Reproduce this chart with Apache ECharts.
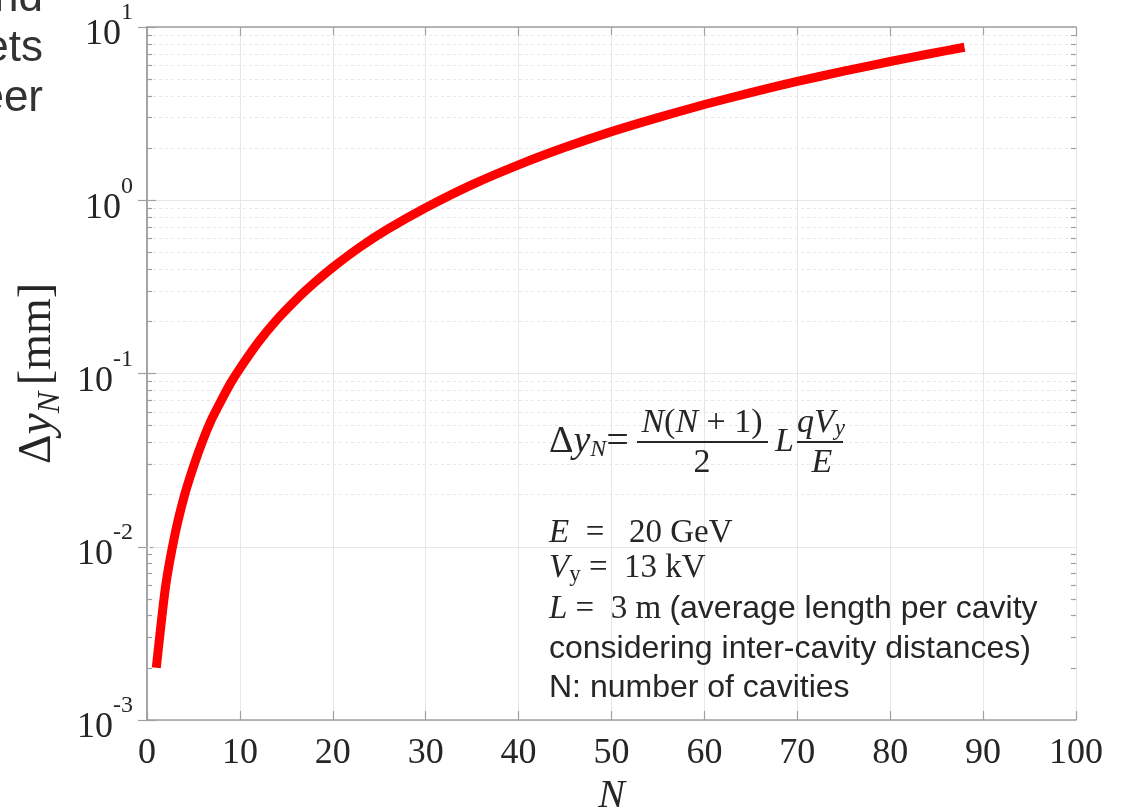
<!DOCTYPE html>
<html>
<head>
<meta charset="utf-8">
<script src="https://cdn.jsdelivr.net/npm/echarts@6/dist/echarts.min.js"></script>
<style>html,body{margin:0;padding:0;background:#fff;}#c{width:1127px;height:812px;}</style>
</head>
<body>
<div id="c"></div>
<script>
// ---- data ----
const nValues = [1,2,3,4,5,6,7,8,9,10,12,14,16,18,20,23,26,30,35,40,45,50,55,60,65,70,75,80,84,88];
const dyValues = [0.0020,0.0059,0.0117,0.0195,0.029,0.041,0.055,0.070,0.088,0.107,0.152,0.205,0.265,0.333,0.41,0.54,0.685,0.905,1.23,1.60,2.02,2.49,3.00,3.57,4.18,4.85,5.56,6.32,6.96,7.64];
const decades = [0.001, 0.01, 0.1, 1];
const minorFactors = [2,3,4,5,6,7,8,9];
const xRange = [0, 100];
const yRange = [0.001, 10];

const TXT = '#262626';
const AX = '#a0a0a0';
const SERIF = '"Liberation Serif","Times New Roman",serif';
const SANS = '"Liberation Sans",Arial,sans-serif';

const minorVals = [];
decades.forEach(d => minorFactors.forEach(f => minorVals.push(+(d * f).toPrecision(3))));

const minorGrid = minorVals.map(v => ({ yAxis: v }));
const minorTicks = [];
minorVals.forEach(v => {
  minorTicks.push([{ coord: [0, v] }, { coord: [0.55, v] }]);
  minorTicks.push([{ coord: [100, v] }, { coord: [99.45, v] }]);
});

const yLabelRich = {
  b: { fontFamily: SERIF, fontSize: 36, color: TXT, verticalAlign: 'bottom', lineHeight: 52 },
  s: { fontFamily: SERIF, fontSize: 24, color: TXT, verticalAlign: 'top', lineHeight: 52 }
};

const option = {
  animation: false,
  backgroundColor: '#fff',
  grid: { left: 147, right: 51, top: 27, bottom: 92, containLabel: false, outerBoundsMode: 'none' },
  xAxis: [{
    type: 'value', min: xRange[0], max: xRange[1], interval: 10,
    axisLine: { lineStyle: { color: AX, width: 1.5 } },
    axisTick: { inside: true, length: 9, lineStyle: { color: AX, width: 1.2 } },
    axisLabel: { fontFamily: SERIF, fontSize: 36, color: TXT, margin: 16 },
    splitLine: { show: true, lineStyle: { color: '#e6e6e6', width: 1 } },
    name: 'N', nameLocation: 'middle', nameGap: 50,
    nameTextStyle: { fontFamily: SERIF, fontStyle: 'italic', fontSize: 40, color: TXT }
  }, {
    type: 'value', position: 'top', min: xRange[0], max: xRange[1], interval: 10,
    axisLine: { lineStyle: { color: AX, width: 1.5 } },
    axisTick: { inside: true, length: 9, lineStyle: { color: AX, width: 1.2 } },
    axisLabel: { show: false }, splitLine: { show: false }
  }],
  yAxis: [{
    type: 'log', logBase: 10, min: yRange[0], max: yRange[1],
    axisLine: { show: true, lineStyle: { color: AX, width: 1.5 } },
    axisTick: { show: true, inside: true, length: 9, lineStyle: { color: AX, width: 1.2 } },
    axisLabel: {
      margin: 14,
      formatter: v => '{b|10}{s|' + Math.round(Math.log10(v)) + '}',
      rich: yLabelRich
    },
    splitLine: { show: true, lineStyle: { color: '#e6e6e6', width: 1 } },
    name: '{d|Δ}{i|y}{sub|N}  {d|[mm]}', nameLocation: 'middle', nameRotate: 90, nameGap: 78,
    nameTextStyle: {
      rich: {
        d: { fontFamily: SERIF, fontSize: 46, color: TXT, verticalAlign: 'middle', lineHeight: 56 },
        i: { fontFamily: SERIF, fontStyle: 'italic', fontSize: 48, color: TXT, verticalAlign: 'middle', lineHeight: 56 },
        sub: { fontFamily: SERIF, fontStyle: 'italic', fontSize: 32, color: TXT, verticalAlign: 'bottom', lineHeight: 56 }
      }
    }
  }, {
    type: 'log', logBase: 10, min: yRange[0], max: yRange[1], position: 'right',
    axisLine: { show: true, lineStyle: { color: AX, width: 1.5 } },
    axisTick: { show: true, inside: true, length: 9, lineStyle: { color: AX, width: 1.2 } },
    axisLabel: { show: false }, splitLine: { show: false }
  }],
  series: [{
    type: 'line', data: [], z: 1, silent: true,
    markLine: {
      silent: true, symbol: 'none', label: { show: false }, animation: false,
      lineStyle: { color: '#e8e8e8', type: [3, 3], width: 1 },
      data: minorGrid
    }
  }, {
    type: 'line', data: [], z: 1, silent: true,
    markLine: {
      silent: true, symbol: 'none', label: { show: false }, animation: false,
      lineStyle: { color: AX, type: 'solid', width: 1.2 },
      data: minorTicks
    }
  }, {
    type: 'line', z: 5,
    data: nValues.map((n, i) => [n, dyValues[i]]),
    showSymbol: false, smooth: 0.2,
    lineStyle: { color: '#ff0000', width: 9, cap: 'butt', join: 'round' }
  }],
  graphic: [
    // clipped slide text at top-left
    { type: 'text', z: 100, x: 43, y: -1, style: { text: 'nd', font: '44px ' + SANS, fill: '#333', align: 'right', verticalAlign: 'middle' } },
    { type: 'text', z: 100, x: 43, y: 49, style: { text: 'ets', font: '44px ' + SANS, fill: '#333', align: 'right', verticalAlign: 'middle' } },
    { type: 'text', z: 100, x: 43, y: 99, style: { text: 'eer', font: '44px ' + SANS, fill: '#333', align: 'right', verticalAlign: 'middle' } },
    // formula
    { type: 'text', z: 100, x: 549, y: 442, style: {
        text: '{d|Δ}{i|y}{sub|N}{r|=}', align: 'left', verticalAlign: 'middle',
        rich: {
          d: { fontFamily: SERIF, fontSize: 38, fill: TXT, verticalAlign: 'middle', lineHeight: 40 },
          i: { fontFamily: SERIF, fontStyle: 'italic', fontSize: 38, fill: TXT, verticalAlign: 'middle', lineHeight: 40 },
          sub: { fontFamily: SERIF, fontStyle: 'italic', fontSize: 24, fill: TXT, verticalAlign: 'bottom', lineHeight: 40 },
          r: { fontFamily: SERIF, fontSize: 40, fill: TXT, verticalAlign: 'middle', lineHeight: 40 }
        } } },
    { type: 'line', z: 100, shape: { x1: 637, y1: 442, x2: 768, y2: 442 }, style: { stroke: TXT, lineWidth: 2 } },
    { type: 'text', z: 100, x: 702, y: 423, style: {
        text: '{i|N}{r|(}{i|N}{r| + 1)}', align: 'center', verticalAlign: 'middle',
        rich: {
          i: { fontFamily: SERIF, fontStyle: 'italic', fontSize: 34, fill: TXT },
          r: { fontFamily: SERIF, fontSize: 34, fill: TXT }
        } } },
    { type: 'text', z: 100, x: 702, y: 463, style: { text: '2', font: '34px ' + SERIF, fill: TXT, align: 'center', verticalAlign: 'middle' } },
    { type: 'text', z: 100, x: 775, y: 442, style: { text: 'L', font: 'italic 34px ' + SERIF, fill: TXT, align: 'left', verticalAlign: 'middle' } },
    { type: 'line', z: 100, shape: { x1: 797, y1: 442, x2: 843, y2: 442 }, style: { stroke: TXT, lineWidth: 2 } },
    { type: 'text', z: 100, x: 821, y: 423, style: {
        text: '{i|qV}{sub|y}', align: 'center', verticalAlign: 'middle',
        rich: {
          i: { fontFamily: SERIF, fontStyle: 'italic', fontSize: 34, fill: TXT, verticalAlign: 'middle', lineHeight: 34 },
          sub: { fontFamily: SERIF, fontStyle: 'italic', fontSize: 23, fill: TXT, verticalAlign: 'bottom', lineHeight: 34 }
        } } },
    { type: 'text', z: 100, x: 822, y: 463, style: { text: 'E', font: 'italic 34px ' + SERIF, fill: TXT, align: 'center', verticalAlign: 'middle' } },
    // parameters
    { type: 'text', z: 100, x: 549, y: 533, style: {
        text: '{i|E}{r|  =   20 GeV}', align: 'left', verticalAlign: 'middle',
        rich: { i: { fontFamily: SERIF, fontStyle: 'italic', fontSize: 33, fill: TXT }, r: { fontFamily: SERIF, fontSize: 33, fill: TXT } } } },
    { type: 'text', z: 100, x: 549, y: 568, style: {
        text: '{i|V}{sub|y}{r| =  13 kV}', align: 'left', verticalAlign: 'middle',
        rich: {
          i: { fontFamily: SERIF, fontStyle: 'italic', fontSize: 33, fill: TXT, verticalAlign: 'middle', lineHeight: 36 },
          sub: { fontFamily: SERIF, fontSize: 23, fill: TXT, verticalAlign: 'bottom', lineHeight: 36 },
          r: { fontFamily: SERIF, fontSize: 33, fill: TXT, verticalAlign: 'middle', lineHeight: 36 }
        } } },
    { type: 'text', z: 100, x: 549, y: 609, style: {
        text: '{i|L}{r| =  3 m }{s|(average length per cavity}', align: 'left', verticalAlign: 'middle',
        rich: {
          i: { fontFamily: SERIF, fontStyle: 'italic', fontSize: 33, fill: TXT },
          r: { fontFamily: SERIF, fontSize: 33, fill: TXT },
          s: { fontFamily: SANS, fontSize: 32, fill: TXT }
        } } },
    { type: 'text', z: 100, x: 549, y: 649, style: { text: 'considering inter-cavity distances)', font: '32px ' + SANS, fill: TXT, align: 'left', verticalAlign: 'middle' } },
    { type: 'text', z: 100, x: 549, y: 688, style: { text: 'N: number of cavities', font: '32px ' + SANS, fill: TXT, align: 'left', verticalAlign: 'middle' } }
  ]
};

const chart = echarts.init(document.getElementById('c'), null, { renderer: 'canvas' });
chart.setOption(option);
</script>
</body>
</html>
